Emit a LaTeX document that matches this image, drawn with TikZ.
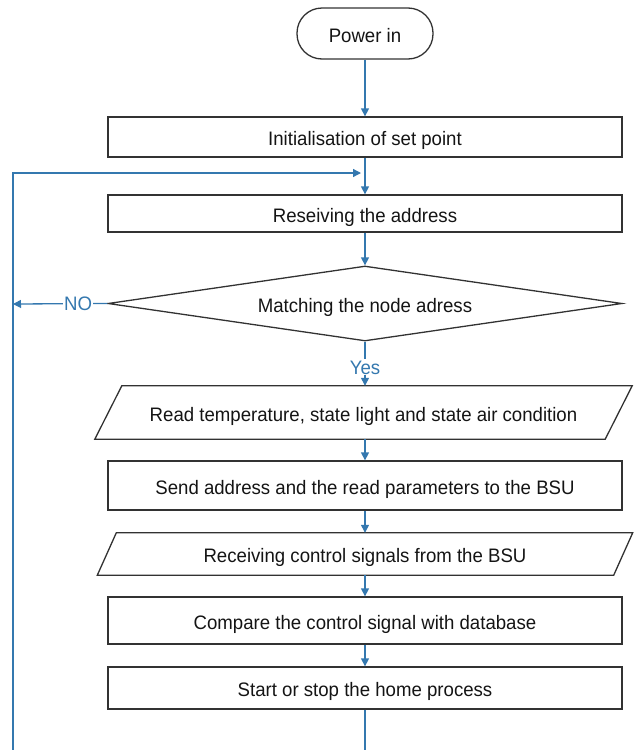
\documentclass[tikz,border=0pt]{standalone}
\usepackage{fontspec}
\setmainfont[FakeStretch=0.955]{Liberation Sans}
\usetikzlibrary{arrows.meta,shapes.geometric}
\definecolor{flowblue}{RGB}{52,120,175}
\definecolor{boxline}{RGB}{50,50,50}
\definecolor{txt}{RGB}{20,20,20}
\begin{document}
\begin{tikzpicture}[x=1pt,y=-1pt,
  every node/.style={font=\fontsize{19.5}{23}\selectfont, text=txt, text height=17pt, text depth=0pt},
  procbox/.style={draw=boxline, line width=1.3pt, rectangle, minimum width=514pt, inner sep=0pt},
  iobox/.style={rectangle, minimum width=#1, inner sep=0pt},
  terminal/.style={draw=boxline, line width=1.3pt, rectangle, rounded corners=25pt, minimum width=136pt, minimum height=51pt},
  decision/.style={draw=boxline, line width=1.3pt, diamond, aspect=6.85, minimum width=514pt, minimum height=75pt, inner sep=1pt},
  conn/.style={draw=flowblue, line width=1.3pt, -{Triangle[length=8pt,width=8pt]}},
  plain/.style={draw=flowblue, line width=1.3pt},
  lbl/.style={text=flowblue, fill=white, inner sep=1pt, text height=14pt}
]
\useasboundingbox (0,0) rectangle (637,750);

% main column of steps
\node[terminal] (power) at (365,33.5) {Power in};
\node[procbox, minimum height=40pt] (init) at (365,137) {Initialisation of set point};
\node[procbox, minimum height=37pt] (recv) at (365,213.5) {Reseiving the address};
\node[decision] (match) at (365,303.5) {Matching the node adress};
\node[iobox=510pt, minimum height=53pt] (read) at (363.5,412.5) {Read temperature, state light and state air condition};
\node[procbox, minimum height=49pt] (send) at (365,485.5) {Send address and the read parameters to the BSU};
\node[iobox=516pt, minimum height=42pt] (ctrl) at (365,554) {Receiving control signals from the BSU};
\node[procbox, minimum height=47pt] (cmp) at (365,620.5) {Compare the control signal with database};
\node[procbox, minimum height=42pt] (act) at (365,688) {Start or stop the home process};

% input/output parallelograms
\draw[boxline, line width=1.3pt]
  ([xshift=13.5pt]read.north west) -- ([xshift=13.5pt]read.north east)
  -- ([xshift=-13.5pt]read.south east) -- ([xshift=-13.5pt]read.south west) -- cycle;
\draw[boxline, line width=1.3pt]
  ([xshift=9.5pt]ctrl.north west) -- ([xshift=9.5pt]ctrl.north east)
  -- ([xshift=-9.5pt]ctrl.south east) -- ([xshift=-9.5pt]ctrl.south west) -- cycle;

% loop-back line on the left
\coordinate (loopbot) at (13,750);
\coordinate (looptop) at (13,173);
\coordinate (loopin) at (361,173);
\coordinate (noend) at (13,304);
\coordinate (tailend) at (365,750);

% connectors
\draw[conn] (power) -- (init);
\draw[conn] (init) -- (recv);
\draw[conn] (loopbot) -- (looptop) -- (loopin);
\draw[conn] (recv) -- (match.north);
\draw[conn] (match.west) -- node[lbl, pos=0.31] {NO} (noend);
\draw[conn] (match.south) -- node[lbl, pos=0.58] {Yes} (match.south |- read.north);
\draw[conn] (read.south -| send.north) -- (send);
\draw[conn] (send) -- (ctrl.north -| send.north);
\draw[conn] (ctrl.south -| send.north) -- (cmp);
\draw[conn] (cmp) -- (act);
\draw[plain] (act) -- (tailend);
\end{tikzpicture}
\end{document}
